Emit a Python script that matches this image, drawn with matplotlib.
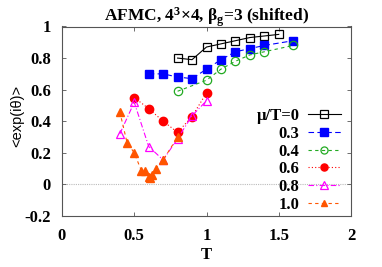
import matplotlib
matplotlib.use("Agg")
import matplotlib.pyplot as plt

T0 = [0.8, 0.9, 1.0, 1.1, 1.2, 1.3, 1.4, 1.5]
Y0 = [0.80, 0.79, 0.87, 0.89, 0.91, 0.93, 0.94, 0.95]
T3 = [0.6, 0.7, 0.8, 0.9, 1.0, 1.1, 1.2, 1.3, 1.4, 1.6]
Y3 = [0.70, 0.70, 0.68, 0.67, 0.73, 0.79, 0.84, 0.86, 0.88, 0.91]
T4 = [0.8, 1.0, 1.1, 1.2, 1.3, 1.4, 1.6]
Y4 = [0.59, 0.66, 0.73, 0.78, 0.82, 0.84, 0.88]
T6 = [0.5, 0.6, 0.7, 0.8, 0.9, 1.0]
Y6 = [0.55, 0.48, 0.40, 0.33, 0.43, 0.58]
T8 = [0.4, 0.5, 0.6, 0.7, 0.8, 0.9, 1.0]
Y8 = [0.32, 0.52, 0.24, 0.155, 0.29, 0.435, 0.53]
T10 = [0.4, 0.45, 0.5, 0.55, 0.575, 0.6, 0.61, 0.625, 0.65, 0.7, 0.8]
Y10 = [0.46, 0.265, 0.20, 0.085, 0.085, 0.05, 0.04, 0.06, 0.10, 0.155, 0.30]
labels = ["μ/T=0", "0.3", "0.4", "0.6", "0.8", "1.0"]

plt.rcParams["mathtext.fontset"] = "custom"
plt.rcParams["mathtext.rm"] = "Liberation Serif:bold"
plt.rcParams["mathtext.bf"] = "Liberation Serif:bold"
plt.rcParams["mathtext.it"] = "Liberation Serif:bold"

serif = ["Liberation Serif", "DejaVu Serif"]
fig = plt.figure(figsize=(3.82, 2.67), dpi=100)
ax = fig.add_axes([62/382, 1-216/267, (351-62)/382, (216-26.5)/267])

ms = 6.0
ax.axhline(0, color="#bbbbbb", lw=0.8, ls=(0, (1, 1)), zorder=0)
ax.plot(T0, Y0, color="black", ls="-", lw=0.8, marker="s", ms=ms, mfc="none", mec="black", mew=0.9, label=labels[0])
ax.plot(T3, Y3, color="blue", ls=(0, (5, 3)), lw=0.8, marker="s", ms=ms, mfc="blue", mec="blue", label=labels[1])
ax.plot(T4, Y4, color="#22aa22", ls=(0, (3, 3)), lw=0.8, marker="o", ms=ms, mfc="none", mec="#22aa22", mew=0.9, label=labels[2])
ax.plot(T6, Y6, color="red", ls=(0, (1, 2)), lw=0.8, marker="o", ms=ms, mfc="red", mec="red", label=labels[3])
ax.plot(T8, Y8, color="magenta", ls=(0, (5, 2, 1, 2)), lw=0.8, marker="^", ms=ms, mfc="none", mec="magenta", mew=0.9, label=labels[4])
ax.plot(T10, Y10, color="#ff5500", ls=(0, (3, 3)), lw=0.8, marker="^", ms=ms-0.5, mfc="#ff5500", mec="#ff5500", label=labels[5])

ax.set_xlim(0, 2)
ax.set_ylim(-0.2, 1)
ax.set_xticks([0, 0.5, 1, 1.5, 2])
ax.set_xticklabels(["0", "0.5", "1", "1.5", "2"])
ax.set_yticks([-0.2, 0, 0.2, 0.4, 0.6, 0.8, 1])
ax.set_yticklabels(["-0.2", "0", "0.2", "0.4", "0.6", "0.8", "1"])
ax.tick_params(direction="in", top=True, right=True, length=3, width=0.6, color="#555555")
ax.tick_params(axis="y", pad=8)
ax.tick_params(axis="x", pad=9)
for lab in ax.get_xticklabels() + ax.get_yticklabels():
    lab.set_family(serif)
    lab.set_fontweight("bold")
    lab.set_fontsize(12)
for s in ax.spines.values():
    s.set_color("#555555")
    s.set_linewidth(0.8)

ax.set_xlabel("T", family=serif, fontweight="bold", fontsize=12, labelpad=2)
ax.set_ylabel("<exp(iθ)>", family=["Liberation Sans", "DejaVu Sans"], fontsize=10.5)
ax.yaxis.set_label_coords((24-62)/289, 0.53)
ax.set_title(r"AFMC, 4$^{\mathrm{3}}$×4, β$_{\mathrm{g}}$=3 (shifted)", family=serif, fontweight="bold", fontsize=12.5, pad=4)

leg = ax.legend(loc="lower right", bbox_to_anchor=(1.0, -0.035), frameon=False, markerfirst=False,
                prop={"family": serif, "weight": "bold", "size": 12}, handlelength=2.0,
                labelspacing=0.1, handletextpad=0.5, borderaxespad=0.2, markerscale=0.85)

fig.savefig("out.png", dpi=100)
